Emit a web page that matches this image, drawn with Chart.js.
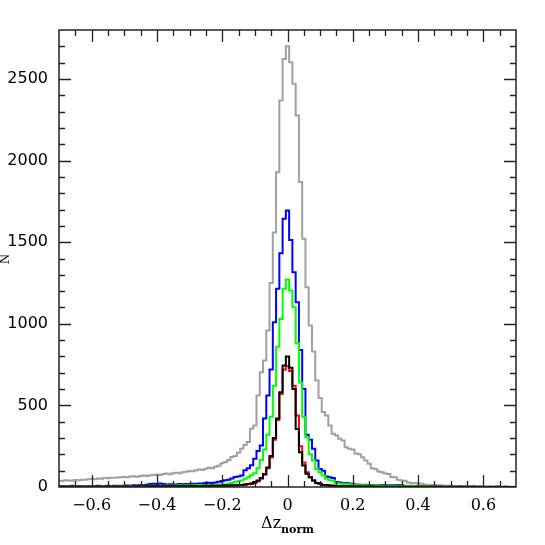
<!DOCTYPE html>
<html>
<head>
<meta charset="utf-8">
<script src="https://cdn.jsdelivr.net/npm/chart.js@4.4.0/dist/chart.umd.min.js"></script>
<style>
    html, body { margin: 0; padding: 0; background: #fff; }
    #histChart { display: block; }
</style>
</head>
<body>
<canvas id="histChart" width="545" height="545"></canvas>
<script>
// Bin centres (width 0.01) of the normalised redshift error histogram
const binCenters = [
    -0.70, -0.69, -0.68, -0.67, -0.66, -0.65, -0.64, -0.63, -0.62, -0.61,
    -0.60, -0.59, -0.58, -0.57, -0.56, -0.55, -0.54, -0.53, -0.52, -0.51,
    -0.50, -0.49, -0.48, -0.47, -0.46, -0.45, -0.44, -0.43, -0.42, -0.41,
    -0.40, -0.39, -0.38, -0.37, -0.36, -0.35, -0.34, -0.33, -0.32, -0.31,
    -0.30, -0.29, -0.28, -0.27, -0.26, -0.25, -0.24, -0.23, -0.22, -0.21,
    -0.20, -0.19, -0.18, -0.17, -0.16, -0.15, -0.14, -0.13, -0.12, -0.11,
    -0.10, -0.09, -0.08, -0.07, -0.06, -0.05, -0.04, -0.03, -0.02, -0.01,
    0.00,
    0.01, 0.02, 0.03, 0.04, 0.05, 0.06, 0.07, 0.08, 0.09, 0.10,
    0.11, 0.12, 0.13, 0.14, 0.15, 0.16, 0.17, 0.18, 0.19, 0.20,
    0.21, 0.22, 0.23, 0.24, 0.25, 0.26, 0.27, 0.28, 0.29, 0.30,
    0.31, 0.32, 0.33, 0.34, 0.35, 0.36, 0.37, 0.38, 0.39, 0.40,
    0.41, 0.42, 0.43, 0.44, 0.45, 0.46, 0.47, 0.48, 0.49, 0.50,
    0.51, 0.52, 0.53, 0.54, 0.55, 0.56, 0.57, 0.58, 0.59, 0.60,
    0.61, 0.62, 0.63, 0.64, 0.65, 0.66, 0.67, 0.68, 0.69, 0.70
];

const grayCounts = [
    38, 36, 41, 40, 39, 43, 42, 45, 44, 47,
    50, 48, 52, 51, 55, 53, 57, 56, 58, 60,
    62, 59, 64, 66, 63, 68, 70, 67, 72, 74,
    76, 73, 79, 82, 78, 85, 88, 84, 90, 94,
    98, 96, 103, 107, 104, 112, 118, 115, 124, 130,
    145, 153, 166, 184, 190, 210, 235, 258, 275, 357,
    377, 560, 703, 775, 959, 1250, 1560, 1929, 2368, 2623,
    2700,
    2603, 2470, 2276, 1868, 1521, 1224, 990, 830, 653, 545,
    460, 438, 377, 326, 316, 295, 285, 244, 234, 230,
    205, 200, 183, 162, 142, 115, 110, 95, 90, 82,
    80, 62, 60, 45, 40, 38, 28, 25, 24, 22,
    20, 15, 13, 12, 12, 11, 10, 9, 8, 7,
    7, 6, 5, 5, 4, 4, 3, 4, 3, 3,
    2, 3, 2, 2, 1, 2, 1, 1, 1, 1
];

const blueCounts = [
    5, 6, 4, 5, 7, 5, 6, 4, 5, 6,
    6, 5, 7, 6, 5, 8, 6, 7, 6, 8,
    7, 9, 8, 10, 9, 11, 12, 14, 18, 20,
    19, 22, 18, 16, 17, 15, 16, 18, 17, 19,
    18, 20, 19, 22, 21, 24, 26, 25, 28, 32,
    36, 41, 45, 52, 61, 64, 71, 102, 115, 133,
    173, 220, 255, 420, 560, 720, 1010, 1214, 1432, 1643,
    1694,
    1514, 1316, 1132, 840, 600, 320, 290, 234, 162, 110,
    100, 65, 60, 55, 30, 28, 25, 24, 22, 20,
    15, 14, 13, 14, 12, 13, 12, 11, 13, 12,
    11, 12, 10, 12, 11, 6, 5, 5, 4, 4,
    3, 3, 4, 3, 2, 3, 2, 2, 2, 1,
    2, 1, 1, 2, 1, 1, 1, 0, 1, 1,
    0, 1, 0, 1, 0, 0, 1, 0, 0, 0
];

const greenCounts = [
    2, 3, 2, 3, 2, 3, 3, 2, 4, 3,
    3, 4, 3, 4, 3, 5, 4, 4, 5, 4,
    5, 4, 6, 5, 6, 5, 7, 6, 7, 8,
    7, 8, 7, 9, 8, 9, 8, 10, 9, 10,
    10, 11, 10, 12, 11, 12, 13, 12, 14, 14,
    15, 17, 20, 24, 30, 35, 40, 50, 60, 72,
    85, 115, 165, 230, 320, 430, 620, 860, 1030, 1214,
    1271,
    1204, 1102, 880, 640, 430, 305, 200, 162, 110, 90,
    70, 50, 42, 38, 25, 21, 20, 18, 17, 15,
    12, 11, 10, 11, 10, 9, 10, 9, 8, 9,
    8, 9, 8, 7, 8, 7, 6, 7, 6, 5,
    4, 4, 3, 4, 3, 3, 2, 3, 2, 2,
    2, 2, 1, 2, 1, 1, 1, 2, 1, 1,
    1, 0, 1, 1, 0, 0, 1, 0, 0, 0
];

const redCounts = [
    1, 2, 1, 1, 2, 1, 2, 1, 2, 1,
    2, 1, 2, 2, 1, 2, 2, 3, 2, 2,
    2, 3, 2, 3, 3, 2, 3, 3, 4, 3,
    3, 4, 3, 4, 4, 3, 4, 5, 4, 5,
    5, 5, 4, 6, 5, 6, 6, 7, 6, 7,
    7, 8, 8, 9, 9, 10, 12, 14, 17, 20,
    25, 35, 50, 75, 115, 180, 290, 410, 570, 720,
    740,
    710, 620, 438, 250, 150, 90, 60, 40, 25, 18,
    13, 10, 8, 7, 6, 5, 5, 4, 4, 4,
    3, 4, 3, 3, 3, 2, 3, 2, 2, 2,
    2, 2, 2, 1, 2, 1, 1, 2, 1, 1,
    1, 1, 1, 1, 0, 1, 1, 0, 1, 0,
    0, 1, 0, 0, 1, 0, 0, 0, 1, 0,
    0, 0, 0, 1, 0, 0, 0, 0, 0, 0
];

const blackCounts = [
    2, 1, 2, 2, 1, 2, 2, 1, 2, 2,
    2, 2, 3, 2, 2, 3, 2, 3, 3, 2,
    3, 3, 2, 3, 4, 3, 3, 4, 3, 4,
    4, 3, 4, 4, 5, 4, 5, 4, 5, 5,
    5, 6, 5, 6, 6, 7, 6, 7, 7, 8,
    8, 9, 9, 10, 11, 12, 13, 15, 18, 22,
    30, 40, 55, 80, 120, 190, 300, 420, 581, 744,
    800,
    730, 600, 356, 213, 132, 81, 60, 40, 24, 22,
    13, 12, 9, 7, 6, 5, 5, 4, 4, 3,
    3, 3, 2, 3, 2, 3, 2, 2, 2, 2,
    2, 1, 2, 2, 1, 1, 2, 1, 1, 1,
    1, 1, 0, 1, 1, 0, 1, 0, 0, 1,
    0, 0, 1, 0, 0, 0, 1, 0, 0, 0,
    0, 0, 0, 0, 1, 0, 0, 0, 0, 0
];

const xTickLabels = ['\u22120.6', '\u22120.4', '\u22120.2', '0', '0.2', '0.4', '0.6'];
const yTickLabels = ['0', '500', '1000', '1500', '2000', '2500'];

function isOnStep(value, step) {
    const r = value / step;
    return Math.abs(r - Math.round(r)) < 1e-6;
}

function xLabel(value) {
    if (!isOnStep(value, 0.2)) return '';
    const k = Math.round(value / 0.2) + 3;
    return xTickLabels[k] || '';
}

function yLabel(value) {
    if (!isOnStep(value, 500)) return '';
    return yTickLabels[Math.round(value / 500)] || '';
}

function toPoints(counts) {
    return binCenters.map((x, i) => ({ x: x, y: counts[i] }));
}

function histSet(label, counts, color, order) {
    return {
        label: label,
        data: toPoints(counts),
        borderColor: color,
        borderWidth: 2,
        pointRadius: 0,
        fill: false,
        stepped: 'middle',
        order: order
    };
}

// Frame, inward ticks on all four sides and the axis titles
const frameAndTitles = {
    id: 'frameAndTitles',
    afterDatasetsDraw(chart) {
        const { ctx, chartArea: a, scales: { x, y } } = chart;
        ctx.save();
        ctx.strokeStyle = '#222';
        ctx.lineWidth = 1.3;
        ctx.beginPath();
        x.ticks.forEach(t => {
            const px = Math.round(x.getPixelForValue(t.value)) + 0.5;
            if (px <= a.left + 1 || px >= a.right - 1) return;
            const len = isOnStep(t.value, 0.2) ? 12 : 6;
            ctx.moveTo(px, a.bottom);
            ctx.lineTo(px, a.bottom - len);
            ctx.moveTo(px, a.top);
            ctx.lineTo(px, a.top + len);
        });
        y.ticks.forEach(t => {
            const py = Math.round(y.getPixelForValue(t.value)) + 0.5;
            if (py <= a.top + 1 || py >= a.bottom - 1) return;
            const len = isOnStep(t.value, 500) ? 12 : 6;
            ctx.moveTo(a.left, py);
            ctx.lineTo(a.left + len, py);
            ctx.moveTo(a.right, py);
            ctx.lineTo(a.right - len, py);
        });
        ctx.stroke();

        ctx.lineWidth = 1.5;
        ctx.strokeRect(a.left, a.top, a.right - a.left, a.bottom - a.top);

        ctx.fillStyle = '#000';
        ctx.textBaseline = 'alphabetic';
        ctx.textAlign = 'left';
        const mainFont = '16px "DejaVu Serif"';
        const subFont = 'bold 11px "DejaVu Serif"';
        ctx.font = mainFont;
        const wMain = ctx.measureText('\u0394z').width;
        ctx.font = subFont;
        const wSub = ctx.measureText('norm').width;
        const startX = (a.left + a.right) / 2 - (wMain + wSub) / 2;
        ctx.font = mainFont;
        ctx.fillText('\u0394z', startX, 528);
        ctx.font = subFont;
        ctx.fillText('norm', startX + wMain, 533);

        ctx.translate(9, 259);
        ctx.rotate(-Math.PI / 2);
        ctx.textAlign = 'center';
        ctx.font = '12px "DejaVu Serif"';
        ctx.fillText('N', 0, 0);
        ctx.restore();
    }
};

const chart = new Chart(document.getElementById('histChart'), {
    type: 'line',
    data: {
        datasets: [
            histSet('all', grayCounts, '#a0a0a0', 5),
            histSet('blue', blueCounts, '#0000ff', 4),
            histSet('green', greenCounts, '#00ff00', 3),
            histSet('red', redCounts, '#ff0000', 2),
            histSet('black', blackCounts, '#000000', 1)
        ]
    },
    options: {
        responsive: false,
        animation: false,
        layout: { padding: { top: 30, right: 29, left: 0, bottom: 0 } },
        plugins: {
            legend: { display: false },
            tooltip: { enabled: false }
        },
        scales: {
            x: {
                type: 'linear',
                min: -0.7,
                max: 0.7,
                grid: { display: false, drawTicks: false },
                border: { display: false },
                ticks: {
                    stepSize: 0.05,
                    autoSkip: false,
                    maxRotation: 0,
                    padding: 9,
                    color: '#000',
                    font: { family: 'DejaVu Serif', size: 16 },
                    callback: value => xLabel(value)
                },
                afterFit: scale => { scale.height = 58; }
            },
            y: {
                type: 'linear',
                min: 0,
                max: 2800,
                grid: { display: false, drawTicks: false },
                border: { display: false },
                ticks: {
                    stepSize: 100,
                    autoSkip: false,
                    padding: 11,
                    color: '#000',
                    font: { family: 'DejaVu Sans', size: 16 },
                    callback: value => yLabel(value)
                },
                afterFit: scale => { scale.width = 59; }
            }
        }
    },
    plugins: [frameAndTitles]
});
</script>
</body>
</html>
